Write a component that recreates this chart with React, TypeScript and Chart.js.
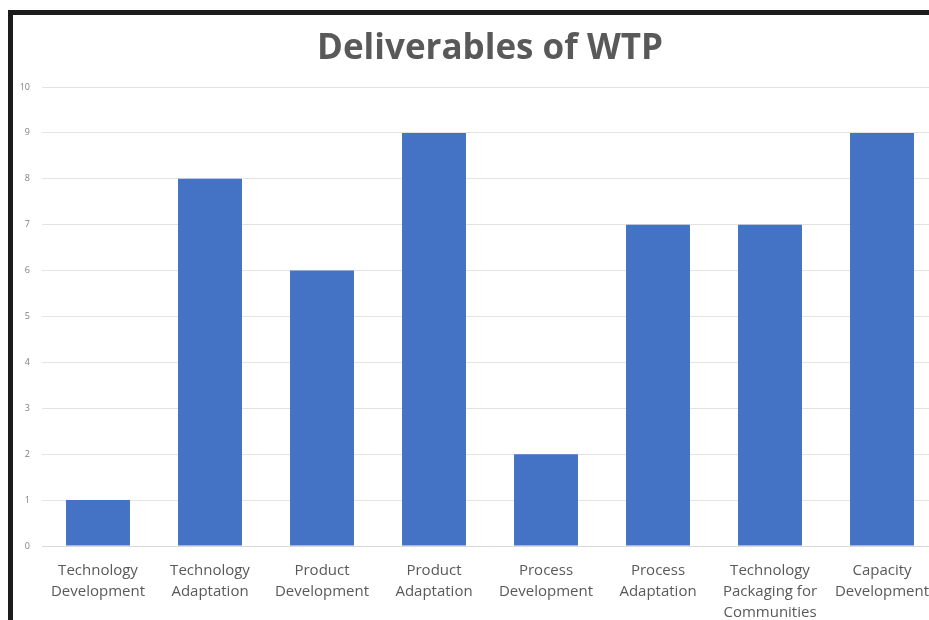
import React, { useEffect, useRef } from "react";
import { Chart, registerables } from "chart.js";

Chart.register(...registerables);

const categories: string[][] = [
  ["Technology", "Development"],
  ["Technology", "Adaptation"],
  ["Product", "Development"],
  ["Product", "Adaptation"],
  ["Process", "Development"],
  ["Process", "Adaptation"],
  ["Technology", "Packaging for", "Communities"],
  ["Capacity", "Development"],
];

const deliverables: number[] = [1, 8, 6, 9, 2, 7, 7, 9];

const yTicks: number[] = [0, 1, 2, 3, 4, 5, 6, 7, 8, 9, 10];

const FONT = "'Open Sans', 'DejaVu Sans', sans-serif";

export default function App() {
  const canvasRef = useRef<HTMLCanvasElement | null>(null);

  useEffect(() => {
    if (!canvasRef.current) return;
    const chart = new Chart(canvasRef.current, {
      type: "bar",
      data: {
        labels: categories,
        datasets: [
          {
            label: "Deliverables",
            data: deliverables,
            backgroundColor: "#4472C4",
            borderWidth: 0,
            barPercentage: 0.571,
            categoryPercentage: 1,
          },
        ],
      },
      options: {
        animation: false,
        responsive: false,
        maintainAspectRatio: false,
        layout: { padding: { left: 0, right: 15, top: 0, bottom: 0 } },
        plugins: {
          legend: { display: false },
          tooltip: { enabled: false },
          title: {
            display: true,
            fullSize: false,
            text: "Deliverables of WTP",
            color: "#595959",
            font: { family: FONT, size: 35, weight: "bold" },
            lineHeight: 1.2,
            padding: { top: 13, bottom: 17 },
          },
        },
        scales: {
          x: {
            grid: { display: false, drawTicks: false },
            border: { display: true, color: "#d9d9d9", width: 1 },
            ticks: {
              color: "#595959",
              font: { family: FONT, size: 15, lineHeight: 1.4 },
              padding: 14,
              maxRotation: 0,
              minRotation: 0,
              autoSkip: false,
            },
            afterFit: (scale: any) => {
              scale.height = 74;
            },
          },
          y: {
            min: 0,
            max: 10,
            afterBuildTicks: (scale: any) => {
              scale.ticks = yTicks.map((v) => ({ value: v }));
            },
            grid: { color: "#e3e3e3", lineWidth: 1, drawTicks: false },
            border: { display: false },
            ticks: {
              color: "#7f7f7f",
              font: { family: FONT, size: 9 },
              padding: 12,
            },
            afterFit: (scale: any) => {
              scale.width = 29;
            },
          },
        },
      },
    });
    return () => chart.destroy();
  }, []);

  return (
    <div
      style={{
        position: "absolute",
        left: 8,
        top: 10,
        width: 921,
        height: 610,
        overflow: "hidden",
        borderTop: "5px solid #1c1c1c",
        borderLeft: "5px solid #1c1c1c",
        boxSizing: "border-box",
        background: "#ffffff",
      }}
    >
      <canvas ref={canvasRef} width={940} height={605} style={{ display: "block" }} />
    </div>
  );
}
